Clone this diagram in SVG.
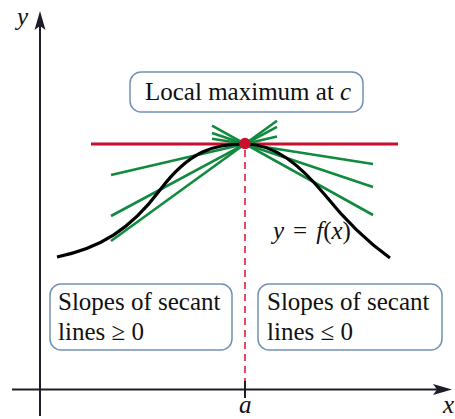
<svg xmlns="http://www.w3.org/2000/svg" width="455" height="419" viewBox="0 0 455 419">
<style>
.axis{stroke:#1c1c2a;stroke-width:2;fill:none}
.box{fill:#fff;stroke:#7391b5;stroke-width:1.5}
.t{font-family:"Liberation Serif","Times New Roman",serif;font-size:25px;fill:#111}
.i{font-style:italic}
.sec{stroke:#11893e;stroke-width:2.6;fill:none;stroke-linecap:butt}
</style>
<rect width="455" height="419" fill="#fff"/>
<g id="axes">
<line class="axis" x1="40" y1="24" x2="40" y2="416"/>
<path d="M40,11 L45.5,30 L40,26 L34.5,30 Z" fill="#1c1c2a"/>
<line class="axis" x1="12" y1="389.5" x2="440" y2="389.5"/>
<path d="M452,389.5 L433,384 L437,389.5 L433,395 Z" fill="#1c1c2a"/>
<line class="axis" x1="245" y1="381" x2="245" y2="398"/>
<text class="t i" x="17" y="25" font-size="24">y</text>
<text class="t i" x="443" y="413">x</text>
<text class="t i" x="239" y="413">a</text>
</g>
<g id="connectors">
<line x1="91" y1="144" x2="398" y2="144" stroke="#c8102e" stroke-width="3"/>
<line x1="245" y1="150" x2="245" y2="381" stroke="#d9203f" stroke-width="1.6" stroke-dasharray="7,5"/>
<line class="sec" x1="111" y1="175" x2="277" y2="136.6"/>
<line class="sec" x1="111" y1="216" x2="277" y2="126.8"/>
<line class="sec" x1="111" y1="241" x2="277" y2="120.8"/>
<line class="sec" x1="212" y1="138.8" x2="373" y2="164"/>
<line class="sec" x1="212" y1="132.9" x2="373" y2="187"/>
<line class="sec" x1="212" y1="125.7" x2="373" y2="215"/>
<path d="M57,257 C100,248 130,230 160,190 C190,150 215,144 245,144 C275,144 300,165 325,195 C345,220 365,240 390,258" fill="none" stroke="#000" stroke-width="3.2"/>
<circle cx="245" cy="143.5" r="5.8" fill="#c8102e"/>
</g>
<g id="curve-label">
<text class="t i" x="273" y="239">y<tspan font-style="normal" dx="9">=</tspan><tspan dx="9">f</tspan><tspan font-style="normal">(</tspan>x<tspan font-style="normal">)</tspan></text>
</g>
<g id="local-max">
<rect class="box" x="130" y="72" width="233" height="40" rx="11"/>
<text class="t" x="145" y="100">Local maximum at <tspan class="i">c</tspan></text>
</g>
<g id="slopes-left">
<rect class="box" x="50" y="284" width="182" height="66" rx="11"/>
<text class="t" x="58" y="310">Slopes of secant</text>
<text class="t" x="58" y="340">lines ≥ 0</text>
</g>
<g id="slopes-right">
<rect class="box" x="258" y="284" width="184" height="66" rx="11"/>
<text class="t" x="267" y="310">Slopes of secant</text>
<text class="t" x="267" y="340">lines ≤ 0</text>
</g>
</svg>
